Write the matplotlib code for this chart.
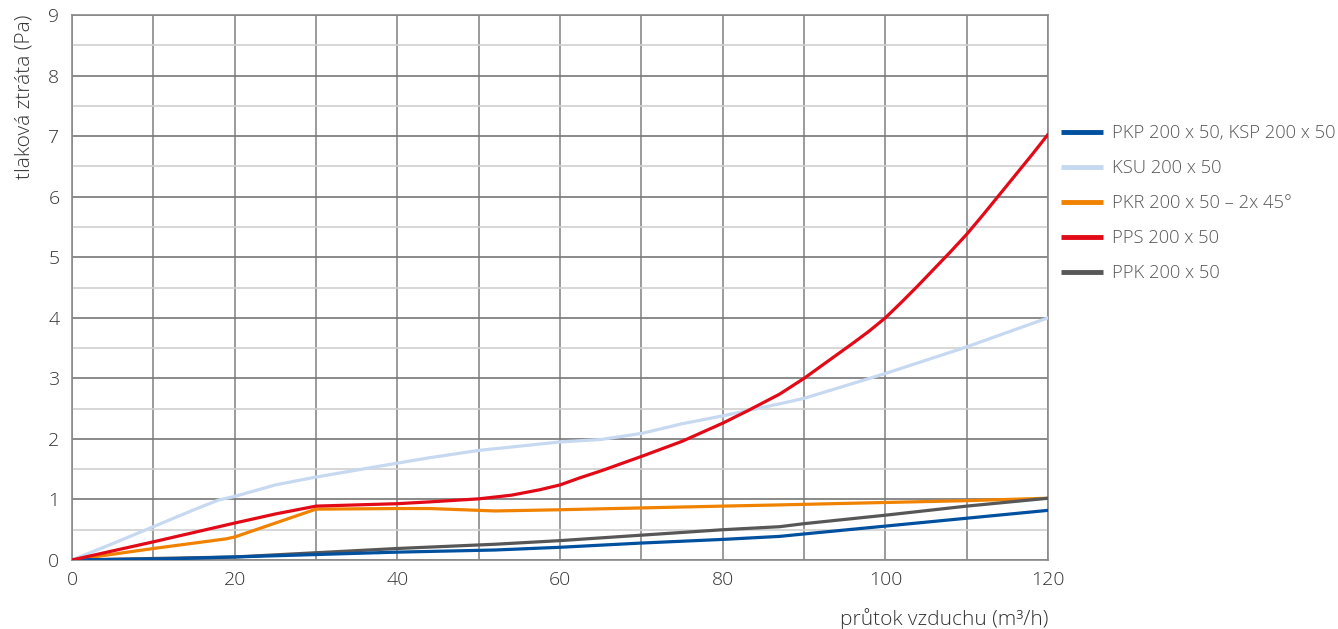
import numpy as np
import matplotlib
matplotlib.use("Agg")
import matplotlib.pyplot as plt

plt.rcParams['font.family'] = ['Open Sans', 'DejaVu Sans']

# PKP 200 x 50, KSP 200 x 50
x_pkp = [0, 12, 20, 30, 40, 52, 60, 70, 80, 87, 90, 100, 110, 120]
y_pkp = [0, 0.02, 0.05, 0.09, 0.13, 0.165, 0.21, 0.28, 0.34, 0.39, 0.43, 0.56, 0.69, 0.82]

# KSU 200 x 50
x_ksu = [0, 5, 10, 15, 18, 20, 25, 30, 40, 44, 50, 60, 65, 70, 75, 80, 87, 90, 100, 110, 120]
y_ksu = [0, 0.27, 0.55, 0.83, 0.99, 1.05, 1.24, 1.37, 1.6, 1.69, 1.81, 1.95, 1.99, 2.09, 2.25, 2.38, 2.58, 2.67, 3.08, 3.52, 4.0]

# PKR 200 x 50 - 2x 45°
x_pkr = [0, 10, 19, 20, 30, 40, 44, 52, 60, 70, 80, 87, 100, 110, 120]
y_pkr = [0, 0.19, 0.35, 0.38, 0.84, 0.85, 0.85, 0.81, 0.83, 0.86, 0.89, 0.91, 0.95, 0.98, 1.02]

# PPS 200 x 50
x_pps = [0, 10, 20, 25, 30, 40, 44, 50, 54, 57.5, 60, 62.5, 65, 67.5, 70, 75, 80, 83, 87, 90, 93, 96, 98,
         100, 102, 104, 106, 108, 110, 112, 114, 116, 118, 120]
y_pps = [0, 0.3, 0.61, 0.76, 0.89, 0.93, 0.96, 1.01, 1.07, 1.16, 1.24, 1.36, 1.47, 1.59, 1.71, 1.96, 2.26, 2.46, 2.74, 3.0, 3.29, 3.58, 3.78,
         4.0, 4.26, 4.53, 4.81, 5.09, 5.38, 5.7, 6.03, 6.36, 6.69, 7.03]

# PPK 200 x 50
x_ppk = [0, 20, 30, 40, 52, 60, 70, 80, 87, 90, 100, 110, 120]
y_ppk = [0, 0.05, 0.12, 0.19, 0.26, 0.32, 0.41, 0.5, 0.55, 0.6, 0.74, 0.89, 1.02]

labels = ['PKP 200 x 50, KSP 200 x 50', 'KSU 200 x 50', 'PKR 200 x 50 – 2x 45°',
          'PPS 200 x 50', 'PPK 200 x 50']
colors = ['#0050A0', '#C6D9F1', '#F08200', '#E30A17', '#575757']

fig = plt.figure(figsize=(13.38, 6.29), dpi=100)
ax = fig.add_axes([0.0538, 0.1097, 0.7295, 0.8663])

series = [(x_pkp, y_pkp), (x_ksu, y_ksu), (x_pkr, y_pkr), (x_pps, y_pps), (x_ppk, y_ppk)]
order = [1, 2, 4, 0, 3]
for i in order:
    xs, ys = series[i]
    ax.plot(xs, ys, color=colors[i], lw=2.3, label=labels[i], zorder=3,
            solid_capstyle='round', solid_joinstyle='round')

ax.set_xlim(0, 120)
ax.set_ylim(0, 9)
ax.set_xticks(range(0, 121, 20))
ax.set_xticks(range(0, 121, 10), minor=True)
ax.set_yticks(range(0, 10))
ax.set_yticks(np.arange(0.5, 9, 1.0), minor=True)

ax.grid(True, which='major', axis='y', color='#777777', lw=1.2, zorder=1)
ax.grid(True, which='minor', axis='y', color='#d0d0d0', lw=1.2, zorder=1)
ax.grid(True, which='both', axis='x', color='#8a8a8a', lw=1.2, zorder=1)
for s in ax.spines.values():
    s.set_color('#8a8a8a')
    s.set_linewidth(1.2)

ax.tick_params(which='both', length=0, labelsize=14, colors='#333333')
ax.tick_params(axis='x', pad=8)
ax.tick_params(axis='y', pad=9)
for t in ax.get_xticklabels() + ax.get_yticklabels():
    t.set_fontweight('light')

ax.set_ylabel('tlaková ztráta (Pa)', fontsize=15, color='#333333', loc='top',
              fontweight='light', labelpad=10)
ax.set_xlabel('průtok vzduchu (m³/h)', fontsize=15, color='#333333', loc='right',
              fontweight='light', labelpad=14)

# legend in original order
handles, lbls = ax.get_legend_handles_labels()
hmap = dict(zip(lbls, handles))
leg = fig.legend([hmap[l] for l in labels], labels, loc='upper left',
                 bbox_to_anchor=(1061 / 1338, 1 - 124 / 629), frameon=False, fontsize=13.2,
                 handlelength=2.3, handletextpad=0.5, labelspacing=0.93,
                 borderpad=0, borderaxespad=0)
for t in leg.get_texts():
    t.set_color('#555555')
    t.set_fontweight('light')
for h in leg.get_lines():
    h.set_linewidth(3.5)
    h.set_solid_capstyle('butt')

fig.savefig('out.png', dpi=100)
